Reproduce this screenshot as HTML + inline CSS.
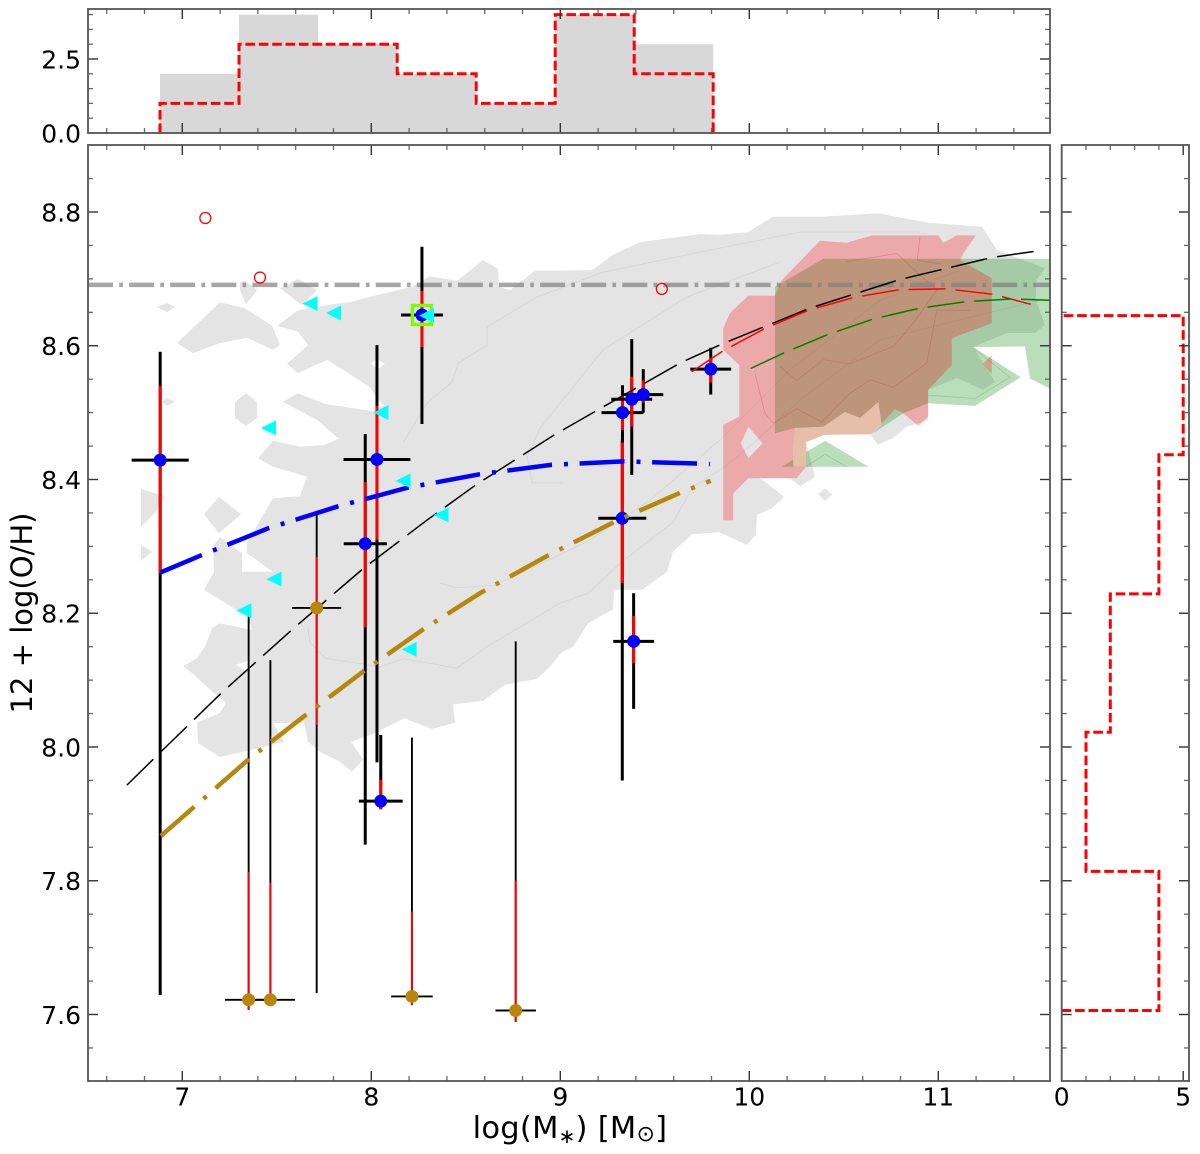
<!DOCTYPE html>
<html lang="en">
<head>
<meta charset="utf-8">
<title>Mass-metallicity relation</title>
<style>
html,body{margin:0;padding:0;background:#fff;}
svg{display:block;position:absolute;left:0;top:0;font-family:"DejaVu Sans","Liberation Sans",sans-serif;}
</style>
</head>
<body>
<svg id="chart" xmlns="http://www.w3.org/2000/svg" width="1200" height="1154" viewBox="0 0 1200 1154">
<defs>
<clipPath id="main-clip"><rect x="88" y="145" width="962" height="936"/></clipPath>
</defs>
<rect x="0" y="0" width="1200" height="1154" fill="#ffffff"/>
<g id="contours" clip-path="url(#main-clip)"></g>
<g id="marks" clip-path="url(#main-clip)"></g>
<g id="top-hist"></g>
<g id="right-hist"></g>
<g id="axes"></g>
<text x="570" y="1138" text-anchor="middle" font-size="30.5" letter-spacing="0.25" fill="#000">log(M<tspan dy="5" font-size="20">∗</tspan><tspan dy="-5">) [M</tspan><tspan dy="3" font-size="22">⊙</tspan><tspan dy="-3">]</tspan></text>
<text transform="translate(32,613) rotate(-90)" text-anchor="middle" font-size="29" fill="#000">12 + log(O/H)</text>
</svg>
<script>
// ---------- chart data (all in data units) ----------
var xTickLabels = [7, 8, 9, 10, 11];
var yTickLabels = ["7.6", "7.8", "8.0", "8.2", "8.4", "8.6", "8.8"];
var topYTickLabels = ["0.0", "2.5"];
var rightXTickLabels = ["0", "5"];

var massBinEdges = [6.882, 7.300, 7.718, 8.137, 8.555, 8.973, 9.391, 9.809];
var massCountsAll = [2, 4, 3, 2, 1, 4, 3];
var massCountsSel = [1, 3, 3, 2, 1, 4, 2];
var ohBinEdges = [7.606, 7.814, 8.022, 8.229, 8.437, 8.645];
var ohCounts = [4, 1, 2, 4, 5];

var solarOH = 8.691;

var blueMass = [6.883, 7.968, 8.03, 8.05, 8.268, 9.329, 9.328, 9.378, 9.439, 9.796, 9.388];
var blueOH = [8.429, 8.304, 8.43, 7.919, 8.646, 8.50, 8.342, 8.52, 8.527, 8.565, 8.158];
var blueMassErr = [0.151, 0.114, 0.177, 0.116, 0.111, 0.111, 0.127, 0.108, 0.106, 0.108, 0.108];
var blueBlackHi = [8.591, 8.468, 8.601, 8.018, 8.748, 8.541, 8.46, 8.61, 8.565, 8.597, 8.23];
var blueBlackLo = [7.629, 7.854, 7.977, 7.907, 8.483, 8.456, 7.95, 8.407, 8.50, 8.527, 8.057];
var blueRedHi = [8.54, 8.396, 8.51, 7.951, 8.682, 8.526, 8.455, 8.554, 8.548, 8.582, 8.196];
var blueRedLo = [8.26, 8.179, 8.31, 7.907, 8.598, 8.474, 8.245, 8.479, 8.515, 8.545, 8.125];

var goldMass = [7.351, 7.466, 7.711, 8.215, 8.764];
var goldOH = [7.622, 7.622, 8.208, 7.627, 7.606];
var goldMassErr = [0.125, 0.13, 0.13, 0.11, 0.107];
var goldBlackHi = [8.195, 8.13, 8.348, 8.014, 8.158];
var goldBlackLo = [7.607, 7.62, 7.632, 7.614, 7.589];
var goldRedHi = [7.813, 7.797, 8.284, 7.754, 7.80];
var goldRedLo = [7.607, 7.615, 8.033, 7.614, 7.589];

var openMass = [7.122, 7.411, 9.537];
var openOH = [8.791, 8.702, 8.685];

var triMass = [7.676, 7.80, 8.292, 7.456, 8.051, 8.168, 7.485, 7.326, 8.369, 8.20];
var triOH = [8.663, 8.649, 8.645, 8.477, 8.50, 8.398, 8.251, 8.204, 8.347, 8.146];

var highlightMass = [8.268];
var highlightOH = [8.646];

var blackCurveMass = [6.707, 6.891, 7.208, 7.579, 7.958, 8.293, 8.558, 8.981, 9.633, 9.859, 10.318, 10.797, 11.283, 11.529];
var blackCurveOH = [7.943, 7.994, 8.081, 8.175, 8.267, 8.339, 8.393, 8.469, 8.574, 8.603, 8.656, 8.699, 8.732, 8.742];
var redCurveMass = [9.695, 9.859, 10.083, 10.312, 10.55, 10.797, 11.044, 11.291, 11.489];
var redCurveOH = [8.561, 8.592, 8.626, 8.653, 8.672, 8.684, 8.685, 8.677, 8.662];
var greenCurveMass = [10.007, 10.189, 10.418, 10.656, 10.898, 11.145, 11.397, 11.59];
var greenCurveOH = [8.566, 8.59, 8.617, 8.64, 8.656, 8.666, 8.67, 8.668];
var blueCurveMass = [6.884, 7.103, 7.455, 7.825, 8.196, 8.575, 8.955, 9.333, 9.73, 9.792];
var blueCurveOH = [8.261, 8.287, 8.327, 8.36, 8.388, 8.408, 8.422, 8.427, 8.424, 8.423];
var goldCurveMass = [6.887, 7.353, 7.658, 7.967, 8.275, 8.575, 8.945, 9.289, 9.633, 9.796];
var goldCurveOH = [7.867, 7.982, 8.049, 8.115, 8.176, 8.23, 8.288, 8.337, 8.38, 8.398];

var grayContourMain = [[7.501,8.630],[7.612,8.653],[7.797,8.662],[7.887,8.665],[8.035,8.676],[8.215,8.688],[8.311,8.704],[8.453,8.697],[8.591,8.728],[8.670,8.715],[8.676,8.688],[8.734,8.683],[8.866,8.712],[9.168,8.713],[9.279,8.736],[9.422,8.755],[9.633,8.763],[9.739,8.767],[9.845,8.766],[9.993,8.770],[10.125,8.793],[10.390,8.793],[10.681,8.798],[10.946,8.784],[11.231,8.778],[11.311,8.743],[11.565,8.716],[11.517,8.698],[11.517,8.668],[11.565,8.631],[11.512,8.619],[11.363,8.619],[11.184,8.598],[11.300,8.546],[11.236,8.534],[11.099,8.552],[10.946,8.534],[10.946,8.489],[10.834,8.479],[10.760,8.462],[10.681,8.452],[10.639,8.467],[10.401,8.467],[10.300,8.456],[10.348,8.404],[10.268,8.390],[10.215,8.402],[10.057,8.402],[10.184,8.374],[10.120,8.357],[10.041,8.347],[10.035,8.317],[9.988,8.302],[9.840,8.321],[9.697,8.318],[9.596,8.292],[9.565,8.262],[9.432,8.235],[9.284,8.235],[9.279,8.206],[9.147,8.185],[9.067,8.150],[9.009,8.142],[8.945,8.120],[8.877,8.102],[8.707,8.093],[8.591,8.069],[8.432,8.064],[8.443,8.036],[8.321,8.027],[8.173,8.043],[8.020,8.021],[7.893,8.008],[7.956,7.981],[7.898,7.963],[7.834,7.978],[7.729,7.993],[7.665,8.008],[7.644,8.036],[7.480,8.036],[7.538,8.008],[7.411,7.999],[7.199,7.985],[7.083,8.006],[7.078,8.036],[7.199,8.051],[7.231,8.066],[7.162,8.082],[7.062,8.108],[7.004,8.121],[7.078,8.133],[7.120,8.150],[7.157,8.178],[7.199,8.185],[7.369,8.175],[7.348,8.194],[7.115,8.235],[7.168,8.262],[7.162,8.299],[7.199,8.314],[7.316,8.290],[7.316,8.262],[7.480,8.262],[7.342,8.290],[7.342,8.305],[7.480,8.372],[7.623,8.375],[7.660,8.404],[7.480,8.419],[7.401,8.432],[7.480,8.458],[7.623,8.449],[7.755,8.452],[7.829,8.461],[7.713,8.489],[7.533,8.516],[7.612,8.529],[7.755,8.513],[8.009,8.502],[8.067,8.511],[8.035,8.519],[7.993,8.538],[7.766,8.579],[7.612,8.559],[7.554,8.573],[7.665,8.601],[7.612,8.621]];
var grayHoleA = [[7.998,8.573],[8.030,8.580],[8.072,8.573],[8.035,8.565]];
var grayHoleB = [[7.284,8.123],[7.348,8.129],[7.374,8.118],[7.332,8.115]];
var grayIslandA = [[6.972,8.604],[7.199,8.665],[7.332,8.656],[7.475,8.630],[7.517,8.601],[7.480,8.594],[7.342,8.612],[7.199,8.604],[7.057,8.589]];
var grayIslandB = [[6.866,8.658],[6.919,8.664],[6.961,8.658],[6.919,8.650]];
var grayIslandC = [[6.893,8.516],[6.919,8.522],[6.961,8.516],[6.919,8.510]];
var grayIslandD = [[7.279,8.516],[7.337,8.529],[7.395,8.516],[7.395,8.492],[7.337,8.480],[7.279,8.492]];
var grayIslandE = [[6.781,8.386],[6.908,8.375],[6.856,8.350],[6.781,8.329]];
var grayIslandF = [[6.781,8.302],[6.840,8.292],[6.781,8.278]];
var grayIslandG = [[7.115,8.348],[7.194,8.374],[7.311,8.348],[7.194,8.320]];
var grayIslandH = [[7.305,8.695],[7.332,8.697],[7.397,8.683],[7.337,8.662],[7.305,8.683]];
var grayIslandI = [[7.517,8.686],[7.612,8.700],[7.713,8.683],[7.633,8.661]];
var grayIslandJ = [[10.364,8.378],[10.401,8.387],[10.438,8.377],[10.401,8.368]];

var grayLevelA = [[7.665,8.178],[7.676,8.156],[7.755,8.133],[8.046,8.120],[8.168,8.132],[8.453,8.118],[8.612,8.150],[8.998,8.215],[9.147,8.230],[9.326,8.277],[9.596,8.336],[9.702,8.389],[9.871,8.419],[10.041,8.459],[10.268,8.519],[10.692,8.609],[11.115,8.639],[11.538,8.668]];
var grayLevelB = [[8.364,8.245],[8.453,8.238],[8.655,8.242],[9.141,8.307],[9.475,8.369],[9.845,8.459],[10.215,8.564],[10.692,8.668],[11.115,8.713]];
var grayLevelC = [[8.168,8.455],[8.295,8.514],[8.427,8.546],[8.459,8.574],[8.612,8.601],[8.612,8.628],[8.877,8.673],[9.226,8.710],[9.739,8.740],[10.268,8.770],[10.903,8.770]];
var grayLevelD = [[9.014,8.395],[8.850,8.395],[8.824,8.434],[8.893,8.477],[9.226,8.594],[9.670,8.673],[10.162,8.725]];

var redLevelA = [[10.030,8.559],[10.083,8.499],[10.127,8.484],[10.251,8.506],[10.383,8.486],[10.533,8.529],[10.639,8.549],[10.762,8.538],[10.939,8.574],[10.991,8.653],[11.168,8.653]];
var redLevelB = [[10.162,8.569],[10.251,8.548],[10.392,8.579],[10.533,8.573],[10.762,8.599],[10.868,8.634],[10.991,8.683],[10.780,8.738],[10.515,8.726]];
var redLevelC = [[10.903,8.763],[10.889,8.728],[11.026,8.722]];
var greenLevelA = [[11.185,8.596],[11.379,8.553],[11.194,8.521],[10.946,8.526]];
var greenLevelB = [[10.300,8.419],[10.401,8.438],[10.515,8.419]];

var greenContour = [[10.136,8.688],[10.392,8.730],[11.591,8.730],[11.591,8.536],[11.485,8.551],[11.459,8.599],[11.185,8.598],[11.436,8.553],[11.194,8.510],[10.946,8.514],[10.815,8.499],[10.648,8.468],[10.700,8.482],[10.683,8.516],[10.586,8.492],[10.506,8.501],[10.392,8.479],[10.242,8.477],[10.136,8.469]];
var greenTriangle = [[10.171,8.419],[10.401,8.458],[10.630,8.419]];
var redContour = [[10.374,8.757],[10.515,8.754],[10.648,8.765],[11.000,8.765],[11.026,8.754],[11.097,8.765],[11.199,8.765],[11.132,8.738],[11.115,8.728],[11.283,8.701],[11.283,8.634],[11.071,8.611],[11.071,8.571],[10.946,8.534],[10.946,8.494],[10.894,8.480],[10.815,8.499],[10.771,8.505],[10.700,8.484],[10.648,8.469],[10.392,8.467],[10.300,8.456],[10.300,8.419],[10.251,8.402],[9.995,8.402],[9.915,8.379],[9.915,8.339],[9.862,8.339],[9.862,8.482],[9.947,8.494],[9.947,8.571],[9.862,8.594],[9.862,8.626],[9.898,8.649],[9.995,8.675],[10.136,8.675],[10.171,8.698]];
var redHole = [[9.995,8.479],[10.071,8.454],[9.995,8.432],[9.955,8.454]];
var redPatch = [[11.283,8.586],[11.283,8.557],[11.235,8.573]];
var peachPatch = [[10.242,8.477],[10.392,8.479],[10.506,8.501],[10.586,8.492],[10.683,8.516],[10.700,8.482],[10.639,8.468],[10.392,8.467],[10.300,8.456],[10.300,8.419],[10.233,8.419],[10.230,8.444]];

// ---------- axis functions ----------
function xMain(v) { return 182.3 + 189 * (v - 7); }
function yMain(v) { return 1014.5 - 668.75 * (v - 7.6); }
function yTop(v) { return 133 - 29.6 * v; }
function xRight(v) { return 1061.7 + 24.3 * v; }

var NS = "http://www.w3.org/2000/svg";
function mk(parent, tag, attrs) {
  var e = document.createElementNS(NS, tag);
  for (var k in attrs) { e.setAttribute(k, attrs[k]); }
  parent.appendChild(e);
  return e;
}
function ptsPath(arr) {
  var d = "";
  for (var i = 0; i < arr.length; i++) {
    d += (i ? "L" : "M") + xMain(arr[i][0]).toFixed(1) + " " + yMain(arr[i][1]).toFixed(1);
  }
  return d + "Z";
}
function curvePoints(xs, ys) {
  var s = [];
  for (var i = 0; i < xs.length; i++) { s.push(xMain(xs[i]).toFixed(1) + "," + yMain(ys[i]).toFixed(1)); }
  return s.join(" ");
}

var contours = document.getElementById("contours");
var marks = document.getElementById("marks");
var topHist = document.getElementById("top-hist");
var rightHist = document.getElementById("right-hist");
var axes = document.getElementById("axes");

// ---------- contours ----------
var grayShapes = [grayContourMain, grayHoleA, grayHoleB, grayIslandA, grayIslandB, grayIslandC, grayIslandD, grayIslandE, grayIslandF, grayIslandG, grayIslandH, grayIslandI, grayIslandJ];
var grayD = "";
grayShapes.forEach(function (s) { grayD += ptsPath(s); });
var grayPath = mk(contours, "path", { d: grayD, fill: "#e4e4e4", "fill-rule": "evenodd" });



[grayLevelA, grayLevelB, grayLevelC, grayLevelD].forEach(function (lvl) {
  var xs = lvl.map(function (p) { return p[0]; });
  var ys = lvl.map(function (p) { return p[1]; });
  var c = mk(contours, "polyline", { points: curvePoints(xs, ys), fill: "none", stroke: "#d6d6d6", "stroke-width": 0.9 });
  
  
});

var greenPath = mk(contours, "path", { d: ptsPath(greenContour) + ptsPath(greenTriangle), fill: "rgb(0,128,0)", "fill-opacity": 0.27 });



var redPath = mk(contours, "path", { d: ptsPath(redContour) + ptsPath(redHole) + ptsPath(redPatch), fill: "rgb(255,0,0)", "fill-opacity": 0.26, "fill-rule": "evenodd" });



var peachPath = mk(contours, "path", { d: ptsPath(peachPatch), fill: "#e6bfa9" });



[redLevelA, redLevelB, redLevelC].forEach(function (lvl) {
  var xs = lvl.map(function (p) { return p[0]; });
  var ys = lvl.map(function (p) { return p[1]; });
  var c = mk(contours, "polyline", { points: curvePoints(xs, ys), fill: "none", stroke: "rgba(190,60,50,0.28)", "stroke-width": 0.9 });
  
  
});
[greenLevelA, greenLevelB].forEach(function (lvl) {
  var xs = lvl.map(function (p) { return p[0]; });
  var ys = lvl.map(function (p) { return p[1]; });
  var c = mk(contours, "polyline", { points: curvePoints(xs, ys), fill: "none", stroke: "rgba(0,110,0,0.18)", "stroke-width": 0.9 });
  
  
});

// ---------- solar line ----------
var solar = mk(marks, "line", { x1: 88, x2: 1050, y1: yMain(solarOH), y2: yMain(solarOH), stroke: "#808080", "stroke-opacity": 0.7, "stroke-width": 4.5, "stroke-dasharray": "25 6.2 3.7 6.2" });



// ---------- error bars and points ----------
function drawError(xv, yv, xe, bh, bl, rh, rl, width, redWidth) {
  var blk = mk(marks, "line", { x1: xMain(xv), x2: xMain(xv), y1: yMain(bh), y2: yMain(bl), stroke: "#000", "stroke-width": width });
  
  
  var hor = mk(marks, "line", { x1: xMain(xv - xe), x2: xMain(xv + xe), y1: yMain(yv), y2: yMain(yv), stroke: "#000", "stroke-width": width });
  
  
  var red = mk(marks, "line", { x1: xMain(xv), x2: xMain(xv), y1: yMain(rh), y2: yMain(rl), stroke: "#ff0000", "stroke-width": redWidth });
  
  
}
goldMass.forEach(function (m, i) {
  drawError(m, goldOH[i], goldMassErr[i], goldBlackHi[i], goldBlackLo[i], goldRedHi[i], goldRedLo[i], 1.9, 2);
});
blueMass.forEach(function (m, i) {
  drawError(m, blueOH[i], blueMassErr[i], blueBlackHi[i], blueBlackLo[i], blueRedHi[i], blueRedLo[i], 3, 3);
});
blueMass.forEach(function (m, i) {
  var c = mk(marks, "circle", { cx: xMain(m), cy: yMain(blueOH[i]), r: 6.5, fill: "#0000ff" });
  
  
});

// ---------- curves ----------
var black = mk(marks, "polyline", { points: curvePoints(blackCurveMass, blackCurveOH), fill: "none", stroke: "#000", "stroke-width": 1.5, "stroke-dasharray": "37 10" });


var redC = mk(marks, "polyline", { points: curvePoints(redCurveMass, redCurveOH), fill: "none", stroke: "#ff0000", "stroke-width": 1.5, "stroke-dasharray": "37 10" });


var greenC = mk(marks, "polyline", { points: curvePoints(greenCurveMass, greenCurveOH), fill: "none", stroke: "#008000", "stroke-width": 1.5, "stroke-dasharray": "37 10" });


var blueC = mk(marks, "polyline", { points: curvePoints(blueCurveMass, blueCurveOH), fill: "none", stroke: "#0000ff", "stroke-width": 4.5, "stroke-dasharray": "45 12 4 11.6" });


var goldC = mk(marks, "polyline", { points: curvePoints(goldCurveMass, goldCurveOH), fill: "none", stroke: "#b8860b", "stroke-width": 4.5, "stroke-dasharray": "44.4 12.1 4 12.1" });



goldMass.forEach(function (m, i) {
  var c = mk(marks, "circle", { cx: xMain(m), cy: yMain(goldOH[i]), r: 6.5, fill: "#b8860b" });
  
  
});

// ---------- extra markers ----------
openMass.forEach(function (m, i) {
  var c = mk(marks, "circle", { cx: xMain(m), cy: yMain(openOH[i]), r: 5.5, fill: "none", stroke: "#ff0000", "stroke-width": 1.3 });
  
  
});
highlightMass.forEach(function (m, i) {
  var cx = xMain(m), cy = yMain(highlightOH[i]);
  var s = mk(marks, "rect", { x: cx - 9.5, y: cy - 9.5, width: 19, height: 19, fill: "none", stroke: "#7cfc00", "stroke-width": 3.4 });
  
  
});
triMass.forEach(function (m, i) {
  var cx = xMain(m), cy = yMain(triOH[i]);
  var t = mk(marks, "polygon", { points: (cx - 7.5) + "," + cy + " " + (cx + 7.5) + "," + (cy - 7.5) + " " + (cx + 7.5) + "," + (cy + 7.5), fill: "#00ffff" });
  
  
});

// ---------- top histogram ----------
function topStep(counts) {
  var d = "M" + xMain(massBinEdges[0]) + " " + yTop(0);
  counts.forEach(function (c, i) {
    d += "L" + xMain(massBinEdges[i]) + " " + yTop(c) + "L" + xMain(massBinEdges[i + 1]) + " " + yTop(c);
  });
  return d + "L" + xMain(massBinEdges[massBinEdges.length - 1]) + " " + yTop(0);
}
var allBars = mk(topHist, "path", { d: topStep(massCountsAll) + "Z", fill: "#d8d8d8" });


var selBars = mk(topHist, "path", { d: topStep(massCountsSel), fill: "none", stroke: "#ff0000", "stroke-width": 3, "stroke-dasharray": "9.6 3.8" });



// ---------- right histogram ----------
var rd = "M" + xRight(0) + " " + yMain(ohBinEdges[0]);
ohCounts.forEach(function (c, i) {
  rd += "L" + xRight(c) + " " + yMain(ohBinEdges[i]) + "L" + xRight(c) + " " + yMain(ohBinEdges[i + 1]);
});
rd += "L" + xRight(0) + " " + yMain(ohBinEdges[ohBinEdges.length - 1]);
var ohBars = mk(rightHist, "path", { d: rd, fill: "none", stroke: "#ff0000", "stroke-width": 3, "stroke-dasharray": "9.6 3.8" });



// ---------- frames and ticks ----------
function tick(x1, y1, x2, y2, major) {
  var l = mk(axes, "line", { x1: x1, y1: y1, x2: x2, y2: y2, stroke: major ? "#333" : "#666", "stroke-width": major ? 1.4 : 1.3 });
  
  
}
function frame(x, y, w, h, name) {
  var r = mk(axes, "rect", { x: x, y: y, width: w, height: h, fill: "none", stroke: "#555", "stroke-width": 1.8 });
  
  
}
function label(x, y, txt, anchor, name) {
  var t = mk(axes, "text", { x: x, y: y, "text-anchor": anchor, "font-size": 25, fill: "#000" });
  t.textContent = txt;
  
  
}
var v, k;
// x ticks on main and top panels
for (k = 0; k * 0.2 + 6.6 < 11.6; k++) {
  v = 6.6 + k * 0.2;
  var isMaj = Math.abs(v - Math.round(v)) < 1e-6;
  var len = isMaj ? 10 : 5;
  var px = xMain(v);
  tick(px, 1081, px, 1081 - len, isMaj);
  tick(px, 145, px, 145 + len, isMaj);
  tick(px, 133, px, 133 - len, isMaj);
  tick(px, 9, px, 9 + len, isMaj);
}
// y ticks on main and right panels
for (k = 0; k * 0.05 + 7.55 < 8.9; k++) {
  v = 7.55 + k * 0.05;
  var isMajY = Math.abs(v * 5 - Math.round(v * 5)) < 1e-6;
  var lenY = isMajY ? 10 : 5;
  var py = yMain(v);
  tick(88, py, 88 + lenY, py, isMajY);
  tick(1050, py, 1050 - lenY, py, isMajY);
  tick(1061.7, py, 1061.7 + lenY, py, isMajY);
  tick(1189, py, 1189 - lenY, py, isMajY);
}
// y ticks on top panel
for (k = 0; k * 0.5 < 4.1; k++) {
  v = k * 0.5;
  var isMajT = k % 5 === 0;
  var lenT = isMajT ? 10 : 5;
  var pt = yTop(v);
  if (k > 0) {
    tick(88, pt, 88 + lenT, pt, isMajT);
    tick(1050, pt, 1050 - lenT, pt, isMajT);
  }
}
// x ticks on right panel
for (k = 1; k <= 5; k++) {
  var isMajR = k === 5;
  var lenR = isMajR ? 10 : 5;
  var pr = xRight(k);
  tick(pr, 1081, pr, 1081 - lenR, isMajR);
  tick(pr, 145, pr, 145 + lenR, isMajR);
}
frame(88, 145, 962, 936, "main-panel-frame");
frame(88, 9, 962, 124, "top-panel-frame");
frame(1061.7, 145, 127.3, 936, "right-panel-frame");

xTickLabels.forEach(function (t) { label(xMain(t), 1105.5, String(t), "middle", "x-tick-label"); });
yTickLabels.forEach(function (t) { label(81, yMain(parseFloat(t)) + 9.3, t, "end", "y-tick-label"); });
topYTickLabels.forEach(function (t) { label(81, yTop(parseFloat(t)) + 9.3, t, "end", "top-y-tick-label"); });
rightXTickLabels.forEach(function (t) { label(xRight(parseFloat(t)), 1105.5, t, "middle", "right-x-tick-label"); });
</script>
</body>
</html>
